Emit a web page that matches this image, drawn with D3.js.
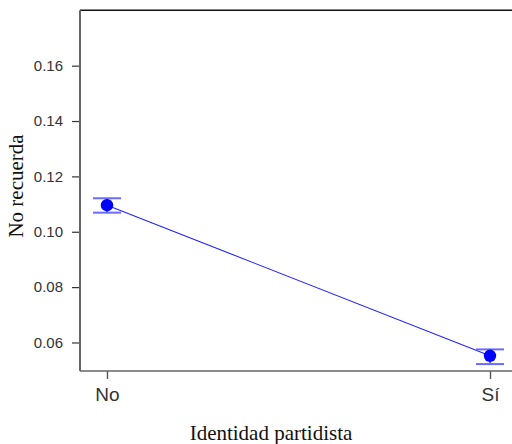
<!DOCTYPE html>
<html>
<head>
<meta charset="utf-8">
<script src="https://cdn.jsdelivr.net/npm/d3@7"></script>
<style>
  html, body { margin: 0; padding: 0; background: #fff; }
  svg { display: block; }
</style>
</head>
<body>
<svg id="chart" width="512" height="444"></svg>
<script>
// Party identity groups and estimated share that does not remember
const categories = ["No", "Sí"];
const estimates = [0.1096, 0.0552];
const lowerCI = [0.1069, 0.0522];
const upperCI = [0.1121, 0.0575];
const yTicks = [0.06, 0.08, 0.10, 0.12, 0.14, 0.16];

const svg = d3.select("#chart");
const plotLeft = 80, plotTop = 10.3, plotBottom = 371, plotRight = 520;

const x = d3.scalePoint().domain(categories).range([107, 490]);
const y = d3.scaleLinear().domain([0.0497, 0.18]).range([plotBottom, plotTop]);

const data = categories.map((c, i) => ({ c, v: estimates[i], lo: lowerCI[i], hi: upperCI[i] }));

// frame: dark top edge, grey axis lines on the left and bottom
svg.append("line").attr("x1", plotLeft).attr("x2", plotRight).attr("y1", plotTop).attr("y2", plotTop)
  .attr("stroke", "#111").attr("stroke-width", 1.6);

const yAxis = svg.append("g").attr("transform", `translate(${plotLeft},0)`)
  .call(d3.axisLeft(y).tickValues(yTicks).tickFormat(d3.format(".2f")).tickSize(8).tickPadding(9));
yAxis.select(".domain").remove();
yAxis.selectAll(".tick line").attr("stroke", "#333").attr("stroke-width", 1.2);
yAxis.selectAll(".tick text").attr("font-family", "Liberation Sans, Arial, sans-serif")
  .attr("font-size", 15).attr("fill", "#333");

const xAxis = svg.append("g").attr("transform", `translate(0,${plotBottom})`)
  .call(d3.axisBottom(x).tickSize(8).tickPadding(9));
xAxis.select(".domain").remove();
xAxis.selectAll(".tick line").attr("stroke", "#555").attr("stroke-width", 1.4);
xAxis.selectAll(".tick text").attr("font-family", "Liberation Sans, Arial, sans-serif")
  .attr("font-size", 19).attr("fill", "#333");

svg.append("line").attr("x1", plotLeft).attr("x2", plotLeft).attr("y1", plotTop).attr("y2", plotBottom)
  .attr("stroke", "#666").attr("stroke-width", 2);
svg.append("line").attr("x1", plotLeft).attr("x2", plotRight).attr("y1", plotBottom).attr("y2", plotBottom)
  .attr("stroke", "#666").attr("stroke-width", 1.6);

// trend line between group estimates
svg.append("path").datum(data)
  .attr("d", d3.line().x(d => x(d.c)).y(d => y(d.v)))
  .attr("fill", "none").attr("stroke", "#2222ff").attr("stroke-width", 1.1);

// confidence interval caps
const capHalf = 14;
const ci = svg.append("g").attr("stroke", "#6a6aff").attr("stroke-width", 2);
data.forEach(d => {
  [d.lo, d.hi].forEach(b => {
    ci.append("line").attr("x1", x(d.c) - capHalf).attr("x2", x(d.c) + capHalf)
      .attr("y1", y(b)).attr("y2", y(b));
  });
  ci.append("line").attr("x1", x(d.c)).attr("x2", x(d.c))
    .attr("y1", y(d.lo)).attr("y2", y(d.hi));
});

// point estimates
svg.append("g").selectAll("circle").data(data).join("circle")
  .attr("cx", d => x(d.c)).attr("cy", d => y(d.v)).attr("r", 6.2)
  .attr("fill", "#0000ff");

// axis titles
svg.append("text").attr("x", 271).attr("y", 440).attr("text-anchor", "middle")
  .attr("font-family", "Liberation Serif, Times New Roman, serif").attr("font-size", 21)
  .attr("fill", "#111").text("Identidad partidista");
svg.append("text").attr("transform", "translate(23,186) rotate(-90)").attr("text-anchor", "middle")
  .attr("font-family", "Liberation Serif, Times New Roman, serif").attr("font-size", 21)
  .attr("fill", "#111").text("No recuerda");
</script>
</body>
</html>
